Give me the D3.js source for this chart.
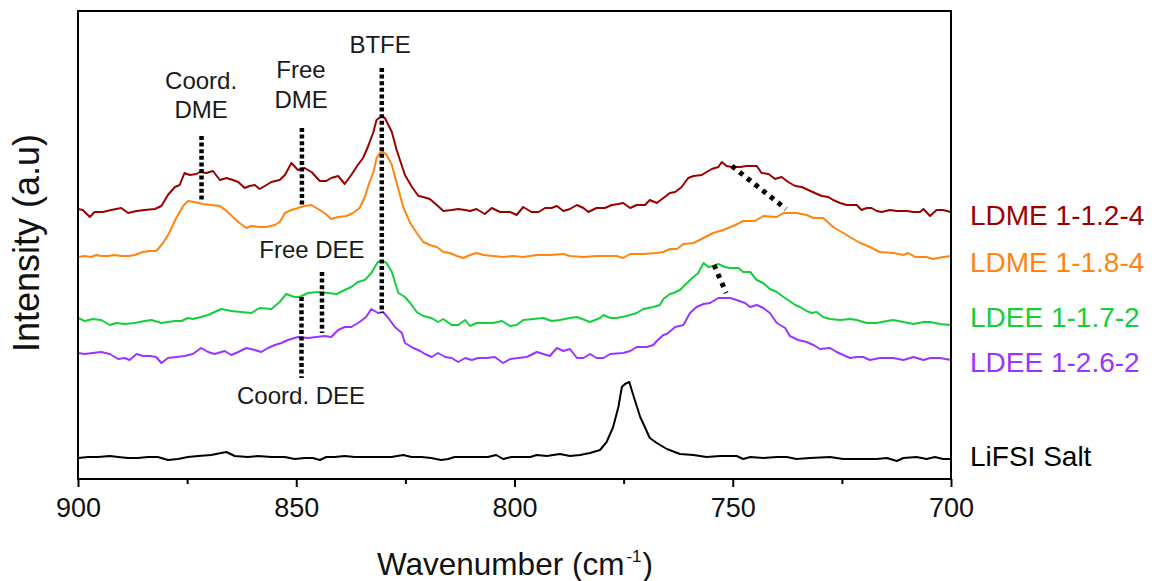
<!DOCTYPE html>
<html>
<head>
<meta charset="utf-8">
<script src="https://cdn.jsdelivr.net/npm/d3@7"></script>
<style>
  html, body { margin: 0; padding: 0; background: #fff; }
  svg { display: block; font-family: "Liberation Sans", Arial, sans-serif; }
</style>
</head>
<body>
<svg id="chart" width="1154" height="581"></svg>
<script>
// Raman spectra (stacked, arbitrary intensity units), [wavenumber cm-1, intensity]
const ldme12 = [[900,270],[898.9,269],[897.3,262],[896.2,267],[894.3,267],[892.4,269],[890.1,271],[888.5,266],[886.6,268],[884.7,269],[882.4,270],[880.9,273],[879.4,284],[877.8,292],[876.7,294],[875.6,306],[874.4,304],[872.9,305],[872.1,307],[870.6,306],[869.1,308],[867.5,299],[866.0,301],[864.5,299],[863.3,297],[861.8,291],[860.7,293],[859.5,294],[858.4,290],[857.2,293],[855.7,297],[853.8,299],[852.6,304],[851.1,316],[849.6,309],[848.1,311],[846.5,307],[844.6,298],[843.1,298],[842.0,301],[840.4,303],[838.9,295],[837.4,304],[835.9,314],[834.7,321],[833.6,332],[832.4,346],[831.6,359],[830.4,363],[829.7,361],[828.1,347],[827.0,329],[825.1,304],[823.5,292],[822.0,283],[820.9,282],[819.4,280],[817.8,274],[816.3,268],[814.4,269],[812.9,270],[811.3,269],[810.2,268],[808.7,270],[806.8,265],[805.2,271],[803.3,267],[801.0,267],[799.5,264],[798.0,272],[796.1,267],[794.5,267],[793.0,271],[791.5,271],[790.3,273],[788.8,268],[787.3,270],[785.7,274],[784.2,271],[783.1,267],[781.2,271],[779.3,271],[777.7,274],[776.2,275],[775.1,276],[773.5,271],[772.0,274],[770.1,274],[769.0,279],[767.4,276],[765.9,281],[764.4,286],[763.2,287],[761.7,292],[760.2,301],[759.0,303],[757.1,304],[756.0,307],[754.8,310],[753.3,312],[752.5,317],[751.4,313],[750.2,312],[748.3,312],[746.8,313],[744.5,313],[743.4,306],[741.8,305],[740.3,300],[738.8,302],[737.3,297],[735.7,293],[734.2,292],[732.7,289],[731.2,286],[729.6,283],[728.1,282],[727.0,279],[725.4,276],[723.9,274],[721.6,274],[720.5,269],[719.3,271],[718.2,271],[717.0,268],[715.9,267],[714.0,269],[712.4,268],[710.1,268],[708.6,267],[707.1,267],[706.3,270],[704.8,263],[703.3,269],[701.8,269],[700,267]];

const ldme18 = [[900,222],[898.5,223],[897.0,222],[895.8,224],[894.7,223],[893.1,223],[891.6,224],[890.1,223],[888.5,223],[887.0,224],[885.1,227],[883.6,228],[882.1,228],[880.5,236],[879.0,247],[877.5,261],[875.9,273],[874.8,278],[873.3,277],[871.4,275],[869.5,274],[867.5,273],[866.0,268],[864.5,262],[863.0,256],[861.4,251],[860.3,253],[858.4,252],[856.9,252],[854.9,254],[853.8,257],[852.6,266],[851.1,269],[849.6,271],[848.1,273],[846.5,274],[845.0,270],[843.5,266],[842.0,260],[840.4,262],[838.5,263],[837.0,266],[835.5,271],[834.3,282],[833.2,297],[832.3,307],[831.6,321],[830.8,326],[830.1,327],[829.3,324],[828.1,314],[827.0,296],[825.5,272],[823.9,256],[822.4,246],[820.9,237],[819.4,234],[817.8,232],[816.3,227],[814.8,226],[813.2,223],[811.7,221],[810.2,224],[808.7,226],[807.1,224],[804.9,223],[802.6,222],[800.3,223],[798.0,222],[794.9,224],[791.9,224],[788.8,225],[787.3,223],[784.2,222],[781.2,223],[776.6,223],[775.1,221],[773.5,225],[770.5,225],[767.4,226],[765.9,227],[764.4,230],[762.8,230],[761.3,235],[759.0,236],[756.7,241],[754.5,246],[752.2,249],[749.9,253],[747.6,258],[744.9,258],[743.0,263],[739.9,262],[738.4,266],[735.4,266],[733.1,264],[731.5,261],[729.3,261],[727.0,252],[724.7,246],[722.8,241],[720.8,236],[718.6,232],[716.3,227],[713.2,226],[710.9,224],[709.8,226],[708.2,222],[705.6,222],[704.1,220],[701.8,222],[700,223]];

const ldee17 = [[900,161],[898.5,158],[896.6,160],[894.7,159],[892.7,154],[891.2,156],[889.3,155],[887.0,156],[884.7,158],[883.2,159],[880.9,156],[879.4,157],[877.8,158],[876.3,158],[874.8,161],[873.7,160],[871.8,162],[870.2,164],[868.7,167],[867.2,170],[864.9,168],[862.6,167],[860.3,166],[858.4,171],[855.7,170],[853.8,177],[852.3,185],[850.4,182],[849.2,182],[847.3,186],[845.0,187],[842.7,186],[840.8,185],[838.9,189],[837.4,192],[835.9,197],[834.3,199],[832.8,206],[832.0,212],[831.3,217],[830.1,218],[829.3,216],[828.1,207],[826.6,186],[825.1,182],[823.9,176],[822.4,167],[820.9,163],[819.0,161],[817.5,157],[816.3,160],[814.4,154],[812.9,154],[811.3,159],[810.2,153],[808.7,156],[806.8,156],[804.9,156],[802.9,158],[801.0,153],[799.5,154],[798.0,159],[795.7,160],[793.4,161],[791.5,158],[789.6,159],[787.3,161],[785.7,162],[782.7,157],[780.4,161],[779.6,164],[778.1,161],[776.6,161],[774.3,163],[772.0,166],[770.5,170],[768.2,172],[766.7,174],[765.9,180],[764.4,185],[763.6,186],[762.1,189],[760.5,196],[759.0,202],[757.9,206],[756.7,216],[755.6,212],[754.5,213],[753.3,215],[751.8,212],[750.6,211],[748.7,211],[747.6,207],[746.0,207],[744.5,199],[743.0,196],[741.5,190],[739.9,187],[738.4,182],[737.3,179],[735.7,174],[734.6,172],[733.1,168],[731.9,166],[730.8,167],[729.3,162],[727.7,160],[725.4,159],[723.1,160],[721.6,159],[719.3,156],[717.0,156],[714.7,158],[713.2,159],[710.9,157],[708.6,155],[706.3,157],[704.8,157],[702.5,155],[700,154]];

const ldee26 = [[900,126],[898.5,125],[896.6,126],[894.7,127],[892.7,125],[890.8,120],[889.3,121],[888.2,119],[886.6,125],[885.1,123],[883.6,123],[882.1,122],[880.9,116],[879.4,121],[877.5,122],[875.6,123],[873.7,125],[871.8,131],[870.2,127],[868.7,125],[866.4,128],[864.9,124],[863.3,127],[861.4,131],[859.5,129],[858.0,127],[856.5,131],[854.9,134],[853.4,136],[851.9,139],[849.6,142],[847.3,141],[845.4,142],[843.5,143],[842.0,142],[840.4,149],[838.9,152],[837.4,152],[835.5,157],[834.0,162],[832.8,170],[831.3,166],[830.1,167],[828.9,161],[827.4,152],[825.8,146],[825.1,136],[823.2,131],[821.6,128],[820.5,125],[819.0,122],[817.5,126],[815.9,122],[814.4,121],[812.9,117],[811.3,121],[809.8,119],[808.3,121],[806.4,121],[804.5,122],[802.6,116],[801.0,120],[799.1,121],[797.2,122],[794.9,127],[793.4,125],[791.9,123],[790.3,131],[788.8,128],[787.3,130],[785.7,121],[784.2,121],[782.7,125],[781.2,121],[779.6,121],[778.1,125],[775.1,126],[773.5,128],[772.0,132],[769.7,132],[768.2,134],[767.4,138],[765.9,144],[765.1,145],[763.2,152],[761.3,154],[759.8,166],[758.3,172],[756.7,175],[755.2,176],[753.3,181],[750.6,181],[749.1,179],[747.2,176],[746.0,172],[744.5,174],[743.0,171],[741.5,166],[739.9,156],[738.0,151],[736.9,143],[735.0,139],[733.1,137],[731.5,134],[730.0,130],[727.7,131],[726.2,127],[724.7,124],[723.1,121],[721.6,122],[720.1,122],[718.6,119],[716.3,121],[713.2,121],[710.9,119],[708.6,122],[706.3,119],[704.8,121],[702.5,121],[700,119]];

const lifsi = [[900,21],[897.7,22],[895.4,22],[892.7,23],[890.8,22],[888.5,21],[886.3,21],[884.0,22],[881.7,22],[879.4,19],[877.1,20],[874.8,22],[872.5,23],[869.5,24],[867.2,26],[866.0,27],[864.1,23],[861.1,22],[858.8,23],[855.7,22],[852.6,22],[850.4,20],[848.1,21],[846.2,21],[844.6,19],[843.1,22],[841.2,22],[838.9,23],[836.6,22],[833.6,22],[830.5,22],[828.2,22],[825.5,24],[823.6,22],[821.3,22],[819.1,21],[816.8,19],[815.2,20],[813.7,22],[810.6,22],[808.4,22],[806.1,22],[804.2,24],[802.6,20],[800.7,22],[798.7,22],[796.4,22],[794.9,24],[792.6,23],[789.6,25],[787.3,23],[785.0,24],[782.7,26],[780.4,29],[778.9,37],[777.4,52],[776.2,72],[775.4,92],[774.7,95],[773.7,97],[772.8,84],[771.2,62],[769.0,41],[767.4,36],[765.1,30],[762.1,25],[759.0,24],[756.0,22],[752.9,23],[749.1,23],[747.6,20],[746.0,22],[743.0,21],[739.9,22],[737.6,22],[735.4,20],[732.3,21],[727.7,22],[724.7,20],[721.6,20],[717.0,20],[714.7,21],[712.4,18],[710.9,21],[707.9,22],[705.6,20],[703.7,22],[701.8,20],[700,20]];

const seriesNames  = ["LDME 1-1.2-4", "LDME 1-1.8-4", "LDEE 1-1.7-2", "LDEE 1-2.6-2", "LiFSI Salt"];
const seriesColors = ["#9b0000", "#ff8410", "#14cf3a", "#9a34ff", "#000000"];
const seriesData   = [ldme12, ldme18, ldee17, ldee26, lifsi];
const labelBaselines = [225, 271.7, 326.7, 371.7, 465.7];

const majorTicks = [900, 850, 800, 750, 700];
const minorTicks = [875, 825, 775, 725];

// Peak-assignment guides: [wavenumber1, intensity1, wavenumber2, intensity2]
const guideVertical = [
  [871.7, 343, 871.7, 279],   // Coord. DME
  [848.7, 351, 848.7, 272],   // Free DME
  [830.4, 411, 830.4, 166],   // BTFE
  [844.1, 207, 844.1, 146],   // Free DEE
  [848.8, 182, 848.8, 101]    // Coord. DEE
];
const guideShift = [
  [750.2, 313, 737.8, 270],   // FSI band shift, DME electrolytes
  [754.3, 214, 751.5, 186]    // FSI band shift, DEE electrolytes
];
// annotation text: [lines, wavenumber of centre, baseline of first line, line spacing]
const annotations = [
  [["Coord.", "DME"], 871.8, 89.3, 29],
  [["Free", "DME"], 848.9, 78.3, 29.4],
  [["BTFE"], 830.8, 52.7, 0],
  [["Free DEE"], 846.4, 258.3, 0],
  [["Coord. DEE"], 848.9, 404.3, 0]
];

const svg = d3.select("#chart");
const L = 78, R = 951, T = 11, B = 479;

const x = d3.scaleLinear().domain([900, 700]).range([L, R]);
const y = d3.scaleLinear().domain([0, 468]).range([B, T]);

svg.append("defs").append("clipPath").attr("id", "plotClip")
  .append("rect").attr("x", L).attr("y", T).attr("width", R - L).attr("height", B - T);

const line = d3.line().x(d => x(d[0])).y(d => y(d[1]));

const plot = svg.append("g").attr("clip-path", "url(#plotClip)");
seriesData.forEach((s, i) => {
  plot.append("path")
    .datum(s)
    .attr("d", line)
    .attr("fill", "none")
    .attr("stroke", seriesColors[i])
    .attr("stroke-width", 2)
    .attr("stroke-linejoin", "round");
});

// dotted guides
plot.selectAll(".vguide").data(guideVertical).enter().append("line")
  .attr("class", "vguide")
  .attr("x1", d => x(d[0])).attr("y1", d => y(d[1]))
  .attr("x2", d => x(d[2])).attr("y2", d => y(d[3]))
  .attr("stroke", "#000").attr("stroke-width", 4.5)
  .attr("stroke-dasharray", "4,2.6");

plot.selectAll(".sguide").data(guideShift).enter().append("line")
  .attr("class", "sguide")
  .attr("x1", d => x(d[0])).attr("y1", d => y(d[1]))
  .attr("x2", d => x(d[2])).attr("y2", d => y(d[3]))
  .attr("stroke", "#000").attr("stroke-width", 5)
  .attr("stroke-dasharray", "4.5,5.3");

// frame
svg.append("rect")
  .attr("x", L).attr("y", T).attr("width", R - L).attr("height", B - T)
  .attr("fill", "none").attr("stroke", "#000").attr("stroke-width", 2);

// bottom axis: major + minor ticks
const xAxis = svg.append("g").attr("transform", `translate(0,${B})`)
  .call(d3.axisBottom(x).tickValues(majorTicks).tickSize(8).tickFormat(d3.format("d")));
xAxis.select(".domain").remove();
xAxis.selectAll(".tick line").attr("stroke", "#000").attr("stroke-width", 2);
xAxis.selectAll(".tick text")
  .attr("y", 38).attr("dy", 0)
  .attr("font-size", 27).attr("fill", "#111")
  .attr("font-family", "'Liberation Sans', Arial, sans-serif");

const xMinor = svg.append("g").attr("transform", `translate(0,${B})`)
  .call(d3.axisBottom(x).tickValues(minorTicks).tickSize(5).tickFormat(""));
xMinor.select(".domain").remove();
xMinor.selectAll(".tick line").attr("stroke", "#000").attr("stroke-width", 2);

// axis titles
const xt = svg.append("text")
  .attr("x", 515).attr("y", 575)
  .attr("text-anchor", "middle")
  .attr("font-size", 31.5).attr("fill", "#111");
xt.append("tspan").text("Wavenumber (cm");
xt.append("tspan").attr("font-size", 17).attr("dx", 2).attr("dy", -13).text("-1");
xt.append("tspan").attr("dx", 1).attr("dy", 13).text(")");

svg.append("text")
  .attr("transform", "translate(39,243) rotate(-90)")
  .attr("text-anchor", "middle")
  .attr("font-size", 36).attr("fill", "#111")
  .text("Intensity (a.u)");

// series labels
seriesNames.forEach((name, i) => {
  svg.append("text")
    .attr("x", 970).attr("y", labelBaselines[i])
    .attr("font-size", 28)
    .attr("fill", seriesColors[i])
    .text(name);
});

// peak annotations
annotations.forEach(a => {
  const t = svg.append("text")
    .attr("text-anchor", "middle")
    .attr("font-size", 24).attr("fill", "#1a1a1a");
  a[0].forEach((ln, k) => {
    t.append("tspan")
      .attr("x", x(a[1]))
      .attr("y", a[2] + k * a[3])
      .text(ln);
  });
});
</script>
</body>
</html>
